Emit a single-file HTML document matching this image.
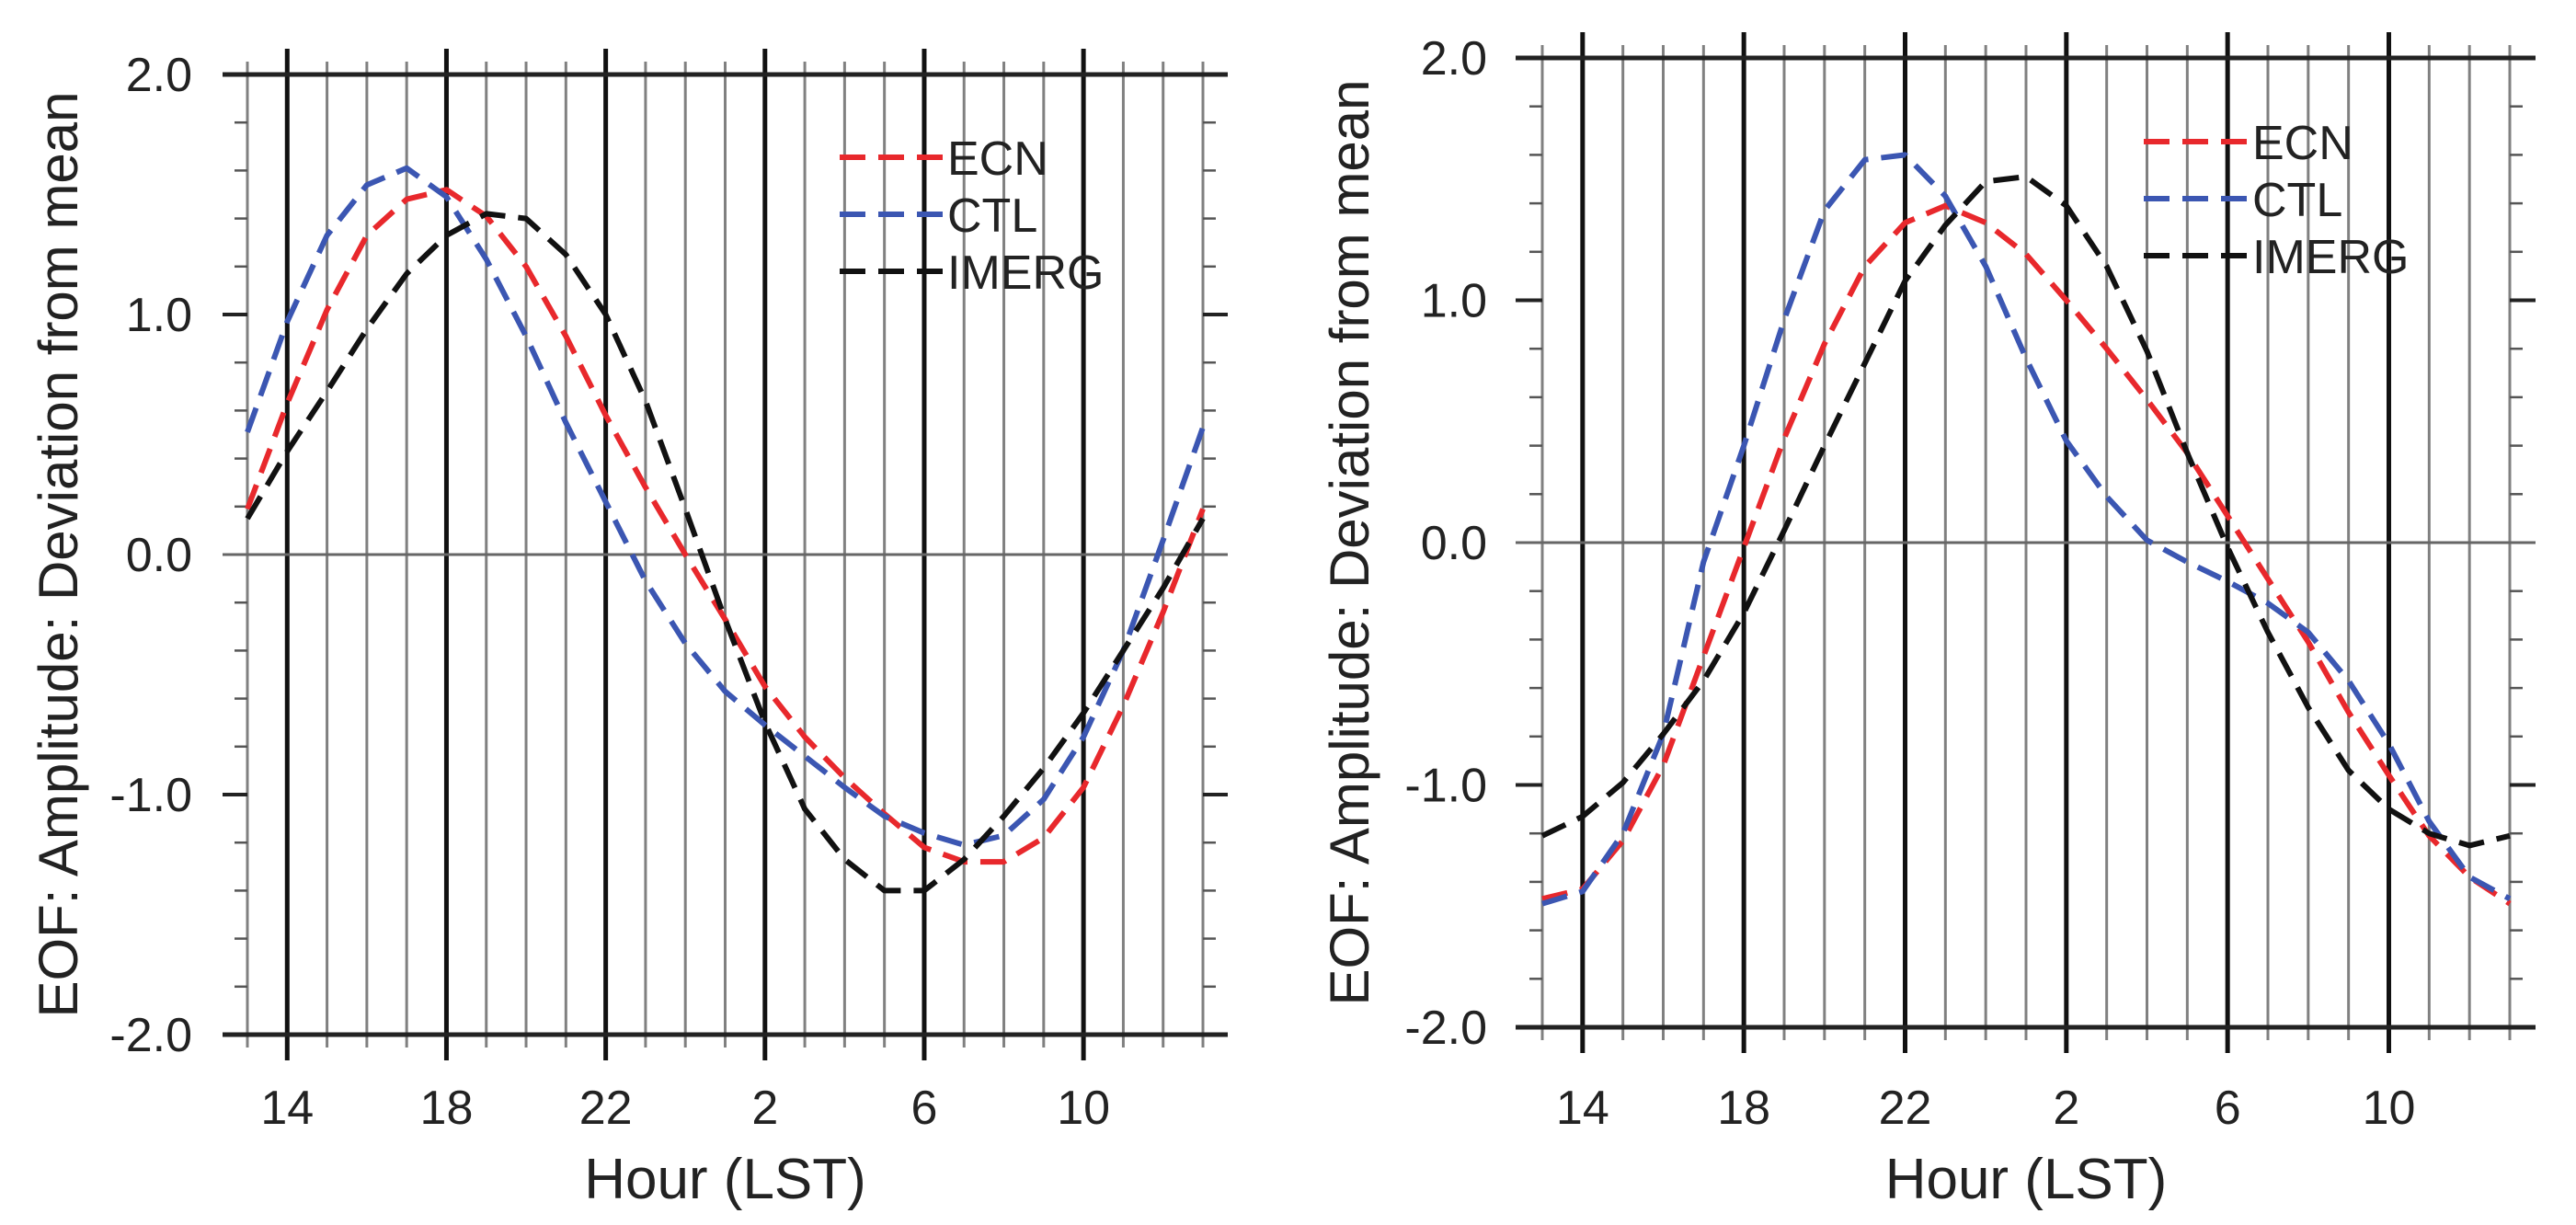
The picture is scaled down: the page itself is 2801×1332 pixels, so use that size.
<!DOCTYPE html>
<html><head><meta charset="utf-8"><style>
html,body{margin:0;padding:0;background:#fff;}
svg{display:block;font-family:"Liberation Sans",Arial,sans-serif;}
</style></head><body>
<svg id="chart" width="2801" height="1332" viewBox="0 0 2801 1332" xmlns="http://www.w3.org/2000/svg">
<rect x="0" y="0" width="2801" height="1332" fill="#fff"/>
</svg>
<script>
const hours = [13,14,15,16,17,18,19,20,21,22,23,24,25,26,27,28,29,30,31,32,33,34,35,36,37];
const xTickHours = [14,18,22,26,30,34];
const xTickLabels = ["14","18","22","2","6","10"];
const yTicks = [2.0,1.0,0.0,-1.0,-2.0];
const yTickLabels = ["2.0","1.0","0.0","-1.0","-2.0"];
const seriesNames = ["ECN","CTL","IMERG"];
const seriesColors = ["#e8282c","#3b56b2","#111111"];
const leftECN = [0.19,0.63,1.02,1.33,1.48,1.52,1.41,1.20,0.91,0.58,0.28,0.0,-0.27,-0.55,-0.76,-0.93,-1.08,-1.22,-1.28,-1.28,-1.18,-0.97,-0.63,-0.24,0.19];
const leftCTL = [0.51,0.97,1.33,1.54,1.61,1.49,1.23,0.91,0.55,0.22,-0.11,-0.37,-0.57,-0.71,-0.84,-0.97,-1.09,-1.16,-1.21,-1.17,-1.02,-0.76,-0.40,0.06,0.53];
const leftIMERG = [0.15,0.43,0.68,0.94,1.17,1.33,1.42,1.40,1.25,1.0,0.64,0.19,-0.27,-0.70,-1.06,-1.27,-1.40,-1.40,-1.27,-1.09,-0.89,-0.66,-0.40,-0.14,0.15];
const rightECN = [-1.47,-1.43,-1.23,-0.92,-0.47,-0.02,0.43,0.82,1.14,1.32,1.39,1.32,1.19,1.0,0.80,0.59,0.37,0.11,-0.15,-0.41,-0.70,-0.96,-1.21,-1.38,-1.49];
const rightCTL = [-1.49,-1.44,-1.20,-0.79,-0.08,0.40,0.92,1.37,1.58,1.60,1.43,1.14,0.76,0.42,0.19,0.01,-0.08,-0.16,-0.25,-0.37,-0.57,-0.83,-1.15,-1.38,-1.47];
const rightIMERG = [-1.21,-1.13,-0.99,-0.79,-0.57,-0.29,0.05,0.40,0.74,1.08,1.31,1.49,1.51,1.39,1.14,0.79,0.37,-0.02,-0.37,-0.68,-0.94,-1.10,-1.20,-1.25,-1.21];

const NS = "http://www.w3.org/2000/svg";
const svg = document.getElementById('chart');
function mk(tag, attrs, parent){
  const e = document.createElementNS(NS, tag);
  for (const k in attrs) e.setAttribute(k, attrs[k]);
  (parent||svg).appendChild(e);
  return e;
}
function drawPanel(p, series, pname){
  const g = mk('g', {});
  
  
  const xMin = hours[0], xMax = hours[hours.length-1];
  const X = h => p.gx0 + (h - xMin) / (xMax - xMin) * (p.gx1 - p.gx0);
  const Y = v => p.yBot - (v + 2) / 4 * (p.yBot - p.yTop);
  hours.forEach(h => {
    const major = xTickHours.indexOf(h) >= 0;
    const l = mk('line', {x1:X(h), x2:X(h), y1:p.yTop - (major?28:14), y2:p.yBot + (major?28:14),
      stroke: major ? '#111' : '#808080', 'stroke-width': major ? 5 : 3}, g);
    
    
  });
  for (let i = 0; i <= 20; i++) {
    const v = -2 + i * 0.2;
    [[p.gx0 - 14, p.gx0], [p.gx1, p.gx1 + 14]].forEach(s => {
      const t = mk('line', {x1:s[0], x2:s[1], y1:Y(v), y2:Y(v), stroke:'#555', 'stroke-width':2.5}, g);
      
      
    });
  }
  yTicks.forEach((v, i) => {
    const full = (v === 2 || v === -2);
    if (full) {
      const l = mk('line', {x1:p.lineStart, x2:p.lineEnd, y1:Y(v), y2:Y(v), stroke:'#222', 'stroke-width':5}, g);
      
      
    } else if (v === 0) {
      const l = mk('line', {x1:p.lineStart, x2:p.lineEnd, y1:Y(v), y2:Y(v), stroke:'#666', 'stroke-width':3}, g);
      
      
    } else {
      [[p.lineStart, p.gx0], [p.gx1, p.lineEnd]].forEach(s => {
        const t = mk('line', {x1:s[0], x2:s[1], y1:Y(v), y2:Y(v), stroke:'#222', 'stroke-width':4}, g);
        
        
      });
    }
    const tx = mk('text', {x:p.gx0 - 60, y:Y(v) + 18, 'text-anchor':'end', 'font-size':52, fill:'#222'}, g);
    tx.textContent = yTickLabels[i];
    
    
  });
  xTickHours.forEach((h, i) => {
    const tx = mk('text', {x:X(h), y:1222, 'text-anchor':'middle', 'font-size':52, fill:'#222'}, g);
    tx.textContent = xTickLabels[i];
    
    
  });
  const xt = mk('text', {x:(p.gx0 + p.gx1) / 2, y:1303, 'text-anchor':'middle', 'font-size':62, fill:'#222'}, g);
  xt.textContent = 'Hour (LST)';
  
  
  const cy = (p.yTop + p.yBot) / 2;
  const yt = mk('text', {x:p.ylabX, y:cy, 'text-anchor':'middle', 'font-size':60, fill:'#222',
    transform:'rotate(-90 ' + p.ylabX + ' ' + cy + ')', dy:'0.35em'}, g);
  yt.textContent = 'EOF: Amplitude: Deviation from mean';
  
  
  series.forEach((vals, si) => {
    const d = vals.map((v, i) => (i ? 'L' : 'M') + X(hours[i]).toFixed(1) + ' ' + Y(v).toFixed(1)).join(' ');
    const path = mk('path', {d:d, fill:'none', stroke:seriesColors[si], 'stroke-width':6, 'stroke-dasharray':'28 14', 'stroke-linejoin':'round'}, g);
    
    
  });
  seriesNames.forEach((n, si) => {
    const ly = p.legY + si * p.legDy;
    const ll = mk('line', {x1:p.legX0, x2:p.legX1, y1:ly, y2:ly, stroke:seriesColors[si], 'stroke-width':6, 'stroke-dasharray':'28 14'}, g);
    
    
    const lt = mk('text', {x:p.legX1 + 2, y:ly + 19, 'font-size':52, fill:'#222'}, g);
    lt.textContent = n;
    
    
  });
}
drawPanel({gx0:269, gx1:1308, yTop:81, yBot:1125, lineStart:242, lineEnd:1335, ylabX:63,
  legX0:913, legX1:1028, legY:171, legDy:62}, [leftECN, leftCTL, leftIMERG], 'left-panel');
drawPanel({gx0:1677, gx1:2729, yTop:63, yBot:1117, lineStart:1648, lineEnd:2757, ylabX:1467,
  legX0:2331, legX1:2447, legY:154, legDy:62}, [rightECN, rightCTL, rightIMERG], 'right-panel');
</script>
</body></html>
